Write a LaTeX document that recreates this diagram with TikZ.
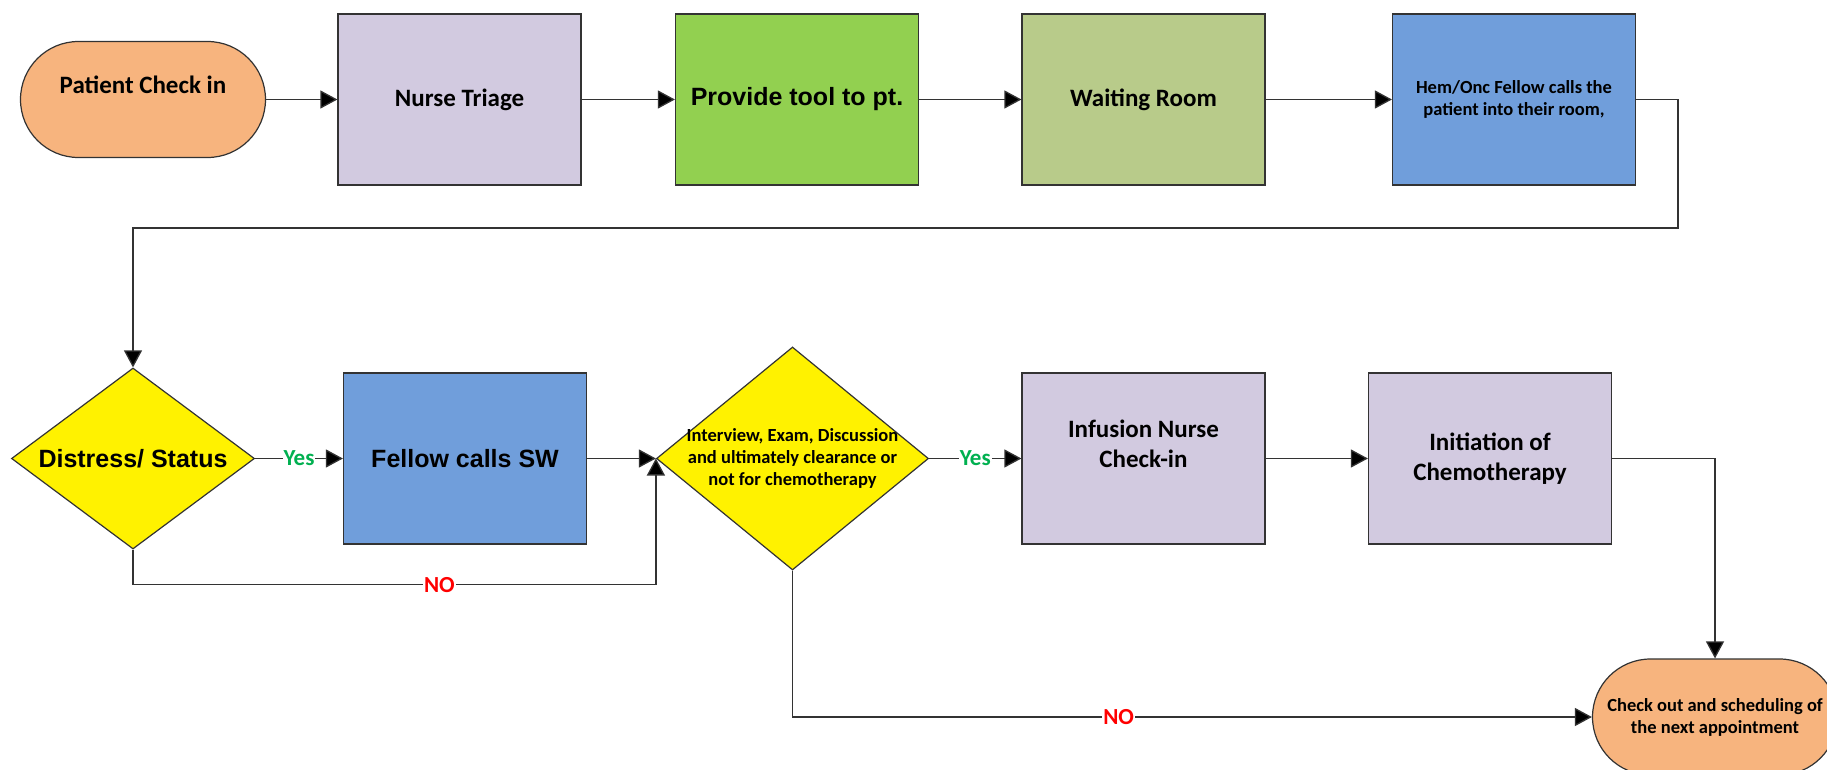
\documentclass[tikz,border=0pt]{standalone}
\usepackage{fontspec}
\setmainfont{Carlito}
\newfontfamily\arialfont{Liberation Sans}
\usetikzlibrary{shapes.geometric}
\usetikzlibrary{shapes.misc}
\usetikzlibrary{arrows.meta}
\definecolor{peach}{RGB}{247,180,126}
\definecolor{lilac}{RGB}{210,202,224}
\definecolor{leaf}{RGB}{146,208,80}
\definecolor{sage}{RGB}{184,203,138}
\definecolor{steel}{RGB}{112,158,219}
\definecolor{yesgreen}{RGB}{0,176,80}
\tikzset{every node/.style={align=center},
stepbox/.style={ % Sets the properties for each process box
rectangle, draw=black!80, line width=1.2pt,
minimum width=243pt, minimum height=171pt, inner sep=0pt},
endpoint/.style={ % Start and end ovals
rounded rectangle, draw=black!80, line width=1.2pt, fill=peach,
minimum width=245pt, minimum height=116pt, inner sep=0pt},
decision/.style={ % Yes/no diamonds
diamond, draw=black!80, line width=1.2pt, fill=yellow,
inner sep=-10pt},
bigtext/.style={font=\fontsize{25}{30}\selectfont\bfseries},
arialtext/.style={font=\arialfont\fontsize{25}{30}\selectfont\bfseries},
smalltext/.style={font=\fontsize{18.5}{22}\selectfont\bfseries},
flow/.style={ % Sets the properties for each connector
draw=black!80, line width=1.3pt,
-{Triangle[length=17pt,width=18pt,fill=black]}},
yeslabel/.style={fill=white, text=yesgreen, inner sep=1pt,
font=\fontsize{23}{23}\selectfont\bfseries},
nolabel/.style={fill=white, text=red, inner sep=1pt,
font=\fontsize{23}{23}\selectfont\bfseries}}

\begin{document}
\begin{tikzpicture}[x=1pt, y=-1pt]
\clip (0,0) rectangle (1827,770);
\fill[white] (0,0) rectangle (1827,770);
% top row
\node[endpoint, bigtext] (checkin) at (143,99.5) {Patient Check in\\\mbox{}};
\node[stepbox, fill=lilac, bigtext] (triage) at (459.5,99.5) {Nurse Triage};
\node[stepbox, fill=leaf, arialtext] (tool) at (797,99.5) {Provide tool to pt.};
\node[stepbox, fill=sage, bigtext] (waiting) at (1143.5,99.5) {Waiting Room};
\node[stepbox, fill=steel, smalltext] (fellow) at (1514,99.5) {Hem/Onc Fellow calls the\\patient into their room,};
% bottom row
\node[decision, arialtext, minimum width=243pt, minimum height=181pt] (distress) at (133,458.5) {Distress/ Status};
\node[stepbox, fill=steel, arialtext] (sw) at (465,458.5) {Fellow calls SW};
\node[decision, smalltext, minimum width=272pt, minimum height=223pt, aspect=1.22] (review) at (792.5,458.5) {Interview, Exam, Discussion\\and ultimately clearance or\\not for chemotherapy};
\node[stepbox, fill=lilac, bigtext] (infusion) at (1143.5,458.5) {Infusion Nurse\\Check-in\\\mbox{}};
\node[stepbox, fill=lilac, bigtext] (chemo) at (1490,458.5) {Initiation of\\Chemotherapy};
\node[endpoint, smalltext] (checkout) at (1715,717) {Check out and scheduling of\\the next appointment};
\coordinate (turn) at (1678,228);

\draw[flow] (checkin.east) -- (triage.west);
\draw[flow] (triage) -- (tool);
\draw[flow] (tool) -- (waiting);
\draw[flow] (waiting) -- (fellow);
\draw[flow] (fellow.east) -| (turn) -| (distress.north);
\draw[flow] (distress) -- node[yeslabel]{Yes} (sw);
\draw[flow] (sw) -- (review);
\draw[flow] (distress.south) -- ++(0,35) -| node[pos=0.293, nolabel]{NO} (review.west);
\draw[flow] (review) -- node[yeslabel]{Yes} (infusion);
\draw[flow] (infusion) -- (chemo);
\draw[flow] (chemo.east) -| (checkout.north);
\draw[flow] (review.south) |- node[pos=0.704, nolabel]{NO} (checkout.west);
\end{tikzpicture}
\end{document}
